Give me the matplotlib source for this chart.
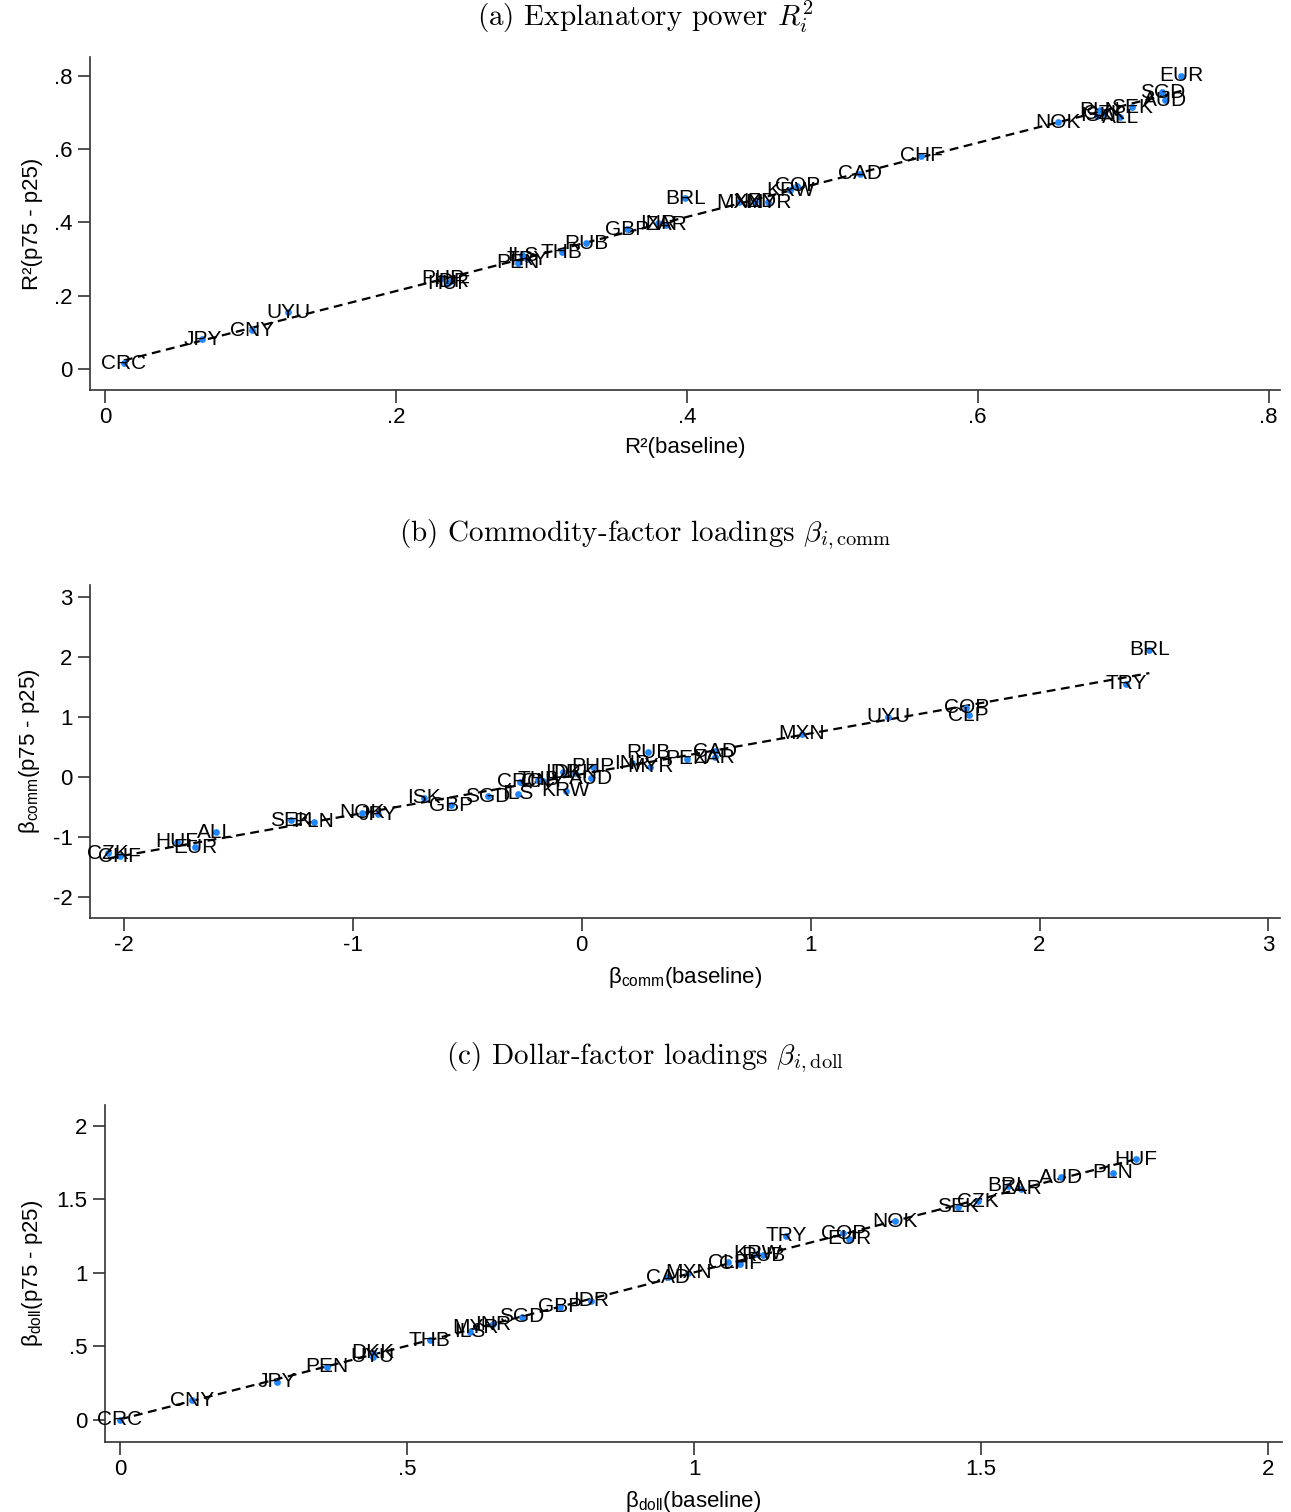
import numpy as np
import matplotlib.pyplot as plt

plt.rcParams['font.family'] = ['Liberation Sans', 'DejaVu Sans']
plt.rcParams['mathtext.fontset'] = 'custom'
plt.rcParams['mathtext.rm'] = 'Liberation Sans'
plt.rcParams['mathtext.it'] = 'Liberation Sans:italic'

# ---------- panel (a): explanatory power ----------
codes_a = ["CRC", "JPY", "CNY", "UYU", "PHP", "IDR", "HUF", "ILS", "PEN", "TRY",
           "THB", "RUB", "GBP", "INR", "ZAR", "BRL", "MXN", "NZD", "MYR", "KRW",
           "COP", "CAD", "CHF", "NOK", "ISK", "CZK", "PLN", "ALL", "SEK", "AUD",
           "SGD", "EUR"]
base_a = [0.013, 0.067, 0.101, 0.126, 0.232, 0.238, 0.236, 0.287, 0.284, 0.290,
          0.314, 0.331, 0.359, 0.380, 0.386, 0.399, 0.436, 0.447, 0.456, 0.471,
          0.476, 0.519, 0.561, 0.655, 0.682, 0.687, 0.684, 0.698, 0.706, 0.729,
          0.727, 0.740]
rob_a = [0.016, 0.082, 0.106, 0.155, 0.248, 0.240, 0.234, 0.310, 0.290, 0.300,
         0.318, 0.343, 0.381, 0.398, 0.393, 0.465, 0.455, 0.456, 0.455, 0.487,
         0.500, 0.533, 0.582, 0.672, 0.690, 0.697, 0.705, 0.686, 0.713, 0.732,
         0.754, 0.800]

# ---------- panel (b): commodity-factor loadings ----------
codes_b = ["CZK", "CHF", "HUF", "EUR", "ALL", "SEK", "PLN", "NOK", "JPY", "ISK",
           "GBP", "SGD", "ILS", "CRC", "THB", "CNY", "KRW", "IDR", "DKK", "AUD",
           "PHP", "INR", "MYR", "RUB", "PEN", "ZAR", "CAD", "MXN", "UYU", "COP",
           "CLP", "TRY", "BRL"]
base_b = [-2.07, -2.02, -1.77, -1.69, -1.60, -1.27, -1.17, -0.96, -0.89, -0.69,
          -0.57, -0.41, -0.28, -0.27, -0.19, -0.17, -0.07, -0.08, -0.03, 0.04,
          0.05, 0.22, 0.30, 0.29, 0.46, 0.58, 0.58, 0.96, 1.34, 1.68,
          1.69, 2.38, 2.48]
rob_b = [-1.27, -1.32, -1.08, -1.17, -0.92, -0.72, -0.75, -0.60, -0.62, -0.35,
         -0.47, -0.32, -0.28, -0.08, -0.05, -0.07, -0.23, 0.08, 0.07, -0.02,
         0.17, 0.23, 0.17, 0.41, 0.30, 0.33, 0.43, 0.72, 1.00, 1.15,
         1.03, 1.55, 2.12]

# ---------- panel (c): dollar-factor loadings ----------
codes_c = ["CRC", "CNY", "JPY", "PEN", "DKK", "UYU", "THB", "ILS", "MYR", "INR",
           "SGD", "GBP", "IDR", "CAD", "MXN", "CLP", "CHF", "KRW", "RUB", "TRY",
           "COP", "EUR", "NOK", "SEK", "CZK", "BRL", "ZAR", "AUD", "PLN", "HUF"]
base_c = [0.00, 0.125, 0.273, 0.36, 0.44, 0.44, 0.54, 0.61, 0.62, 0.65,
          0.70, 0.767, 0.82, 0.955, 0.99, 1.06, 1.08, 1.11, 1.12, 1.16,
          1.26, 1.27, 1.35, 1.46, 1.495, 1.547, 1.57, 1.64, 1.73, 1.77]
rob_c = [0.00, 0.135, 0.26, 0.36, 0.455, 0.43, 0.54, 0.60, 0.63, 0.65,
         0.70, 0.77, 0.81, 0.97, 1.00, 1.07, 1.06, 1.13, 1.12, 1.25,
         1.27, 1.23, 1.35, 1.45, 1.485, 1.59, 1.57, 1.65, 1.68, 1.77]

panels = [
    dict(codes=codes_a, x=base_a, y=rob_a,
         title=r"(a) Explanatory power $R_i^2$",
         xlabel="R²(baseline)", ylabel="R²(p75 - p25)",
         xticks=[0, .2, .4, .6, .8], xtl=["0", ".2", ".4", ".6", ".8"],
         yticks=[0, .2, .4, .6, .8], ytl=["0", ".2", ".4", ".6", ".8"],
         xlim=(-0.0103, 0.808), ylim=(-0.057, 0.85),
         rect=[0.0697, 0.742, 0.922, 0.2202], title_y=0.9887),
    dict(codes=codes_b, x=base_b, y=rob_b,
         title=r"(b) Commodity-factor loadings $\beta_{i,\mathrm{comm}}$",
         xlabel=r"β$_{\mathrm{comm}}$(baseline)", ylabel=r"β$_{\mathrm{comm}}$(p75 - p25)",
         xticks=[-2, -1, 0, 1, 2, 3], xtl=["-2", "-1", "0", "1", "2", "3"],
         yticks=[-2, -1, 0, 1, 2, 3], ytl=["-2", "-1", "0", "1", "2", "3"],
         xlim=(-2.149, 3.052), ylim=(-2.35, 3.2),
         rect=[0.0697, 0.3929, 0.922, 0.2202], title_y=0.6465),
    dict(codes=codes_c, x=base_c, y=rob_c,
         title=r"(c) Dollar-factor loadings $\beta_{i,\mathrm{doll}}$",
         xlabel=r"β$_{\mathrm{doll}}$(baseline)", ylabel=r"β$_{\mathrm{doll}}$(p75 - p25)",
         xticks=[0, .5, 1, 1.5, 2], xtl=["0", ".5", "1", "1.5", "2"],
         yticks=[0, .5, 1, 1.5, 2], ytl=["0", ".5", "1", "1.5", "2"],
         xlim=(-0.026, 2.024), ylim=(-0.15, 2.14),
         rect=[0.0813, 0.0463, 0.9117, 0.2229], title_y=0.3008),
]

fig = plt.figure(figsize=(12.91, 15.12), dpi=100)

for p in panels:
    ax = fig.add_axes(p["rect"])
    x = np.array(p["x"])
    y = np.array(p["y"])

    # fitted line over the data range
    b, a = np.polyfit(x, y, 1)
    xs = np.array([x.min(), x.max()])
    ax.plot(xs, a + b * xs, color="black", lw=1.6, ls=(0, (4, 2.5)), zorder=1)

    ax.scatter(x, y, s=24, color="#1f86ff", zorder=2, linewidths=0)
    for c, xi, yi in zip(p["codes"], x, y):
        ax.text(xi, yi, c, ha="center", va="center", fontsize=15, zorder=3)

    ax.set_xlim(p["xlim"])
    ax.set_ylim(p["ylim"])
    ax.set_xticks(p["xticks"])
    ax.set_xticklabels(p["xtl"])
    ax.set_yticks(p["yticks"])
    ax.set_yticklabels(p["ytl"])
    ax.tick_params(labelsize=16, length=9, width=1.2, color="#333333")
    for s in ["top", "right"]:
        ax.spines[s].set_visible(False)
    for s in ["left", "bottom"]:
        ax.spines[s].set_linewidth(1.2)
        ax.spines[s].set_color("#333333")
    ax.set_xlabel(p["xlabel"], fontsize=16, labelpad=6)
    ax.set_ylabel(p["ylabel"], fontsize=16, labelpad=8)

    fig.text(0.5, p["title_y"], p["title"], ha="center", va="center",
             fontsize=21, family="cmr10", math_fontfamily="cm")

fig.savefig("out.png", dpi=100)
